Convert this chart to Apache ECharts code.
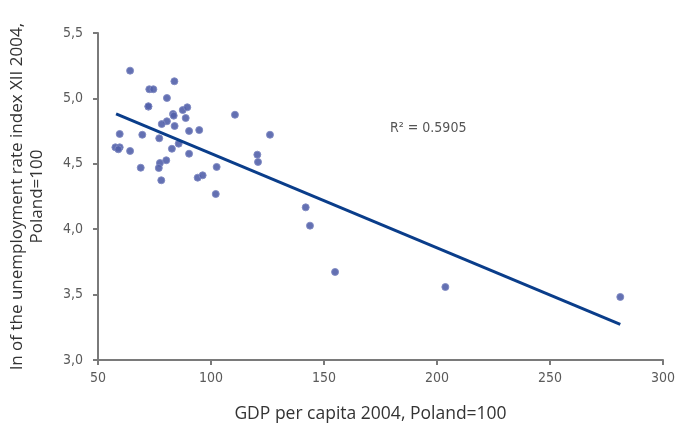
<!DOCTYPE html>
<html>
<head>
<meta charset="utf-8">
<script src="https://cdn.jsdelivr.net/npm/echarts@6/dist/echarts.min.js"></script>
<style>html,body{margin:0;padding:0;background:#fff}#c{width:684px;height:426px}</style>
</head>
<body>
<div id="c"></div>
<script>
var gdp = [64.2,83.8,72.7,74.5,80.5,72.3,72.3,83.2,83.5,87.5,89.5,110.6,88.8,80.5,78.2,83.9,59.6,69.6,90.3,94.8,126.1,77.1,57.7,59.6,59.0,64.2,82.7,85.7,90.3,120.5,120.8,77.4,80.2,76.9,68.9,102.5,78.0,94.1,96.3,102.1,141.9,143.8,154.9,203.7,281.1];
var lnUnemp = [5.212,5.131,5.070,5.070,5.003,4.937,4.940,4.881,4.868,4.911,4.932,4.875,4.850,4.825,4.804,4.789,4.728,4.722,4.751,4.758,4.722,4.695,4.626,4.626,4.611,4.598,4.615,4.654,4.577,4.570,4.514,4.506,4.527,4.468,4.470,4.476,4.374,4.394,4.412,4.269,4.167,4.027,3.673,3.558,3.482];
var trendX = [58.0, 281.1];
var trendY = [4.881, 3.273];
var r2Text = 'R² = 0.5905';
var xTicks = [50,100,150,200,250,300];
var yTicks = ['3,0','3,5','4,0','4,5','5,0','5,5'];

var fnt = "'Liberation Sans Narrow','DejaVu Sans Condensed','Open Sans',sans-serif";
var chart = echarts.init(document.getElementById('c'));
chart.setOption({
  animation: false,
  backgroundColor: '#fff',
  grid: {left: 98, right: 21, top: 33, bottom: 66, containLabel: false, outerBoundsMode: 'none'},
  xAxis: {
    type: 'value', min: 50, max: 300, interval: 50,
    axisLine: {lineStyle: {color: '#7a7a7a', width: 2}},
    axisTick: {show: true, length: 5, lineStyle: {color: '#7a7a7a', width: 2}},
    splitLine: {show: false},
    axisLabel: {color: '#5a5a5a', fontFamily: fnt, fontSize: 14, margin: 11},
    name: 'GDP per capita 2004, Poland=100',
    nameLocation: 'middle', nameGap: 45,
    nameTextStyle: {color: '#333', fontFamily: "'Open Sans',sans-serif", fontSize: 17.5, padding: [0, 20, 0, 0]}
  },
  yAxis: {
    type: 'value', min: 3, max: 5.5, interval: 0.5,
    axisLine: {show: true, lineStyle: {color: '#7a7a7a', width: 2}},
    axisTick: {show: true, length: 5, lineStyle: {color: '#7a7a7a', width: 2}},
    splitLine: {show: false},
    axisLabel: {color: '#5a5a5a', fontFamily: fnt, fontSize: 14, margin: 15,
      formatter: function(v){ return yTicks[Math.round((v-3)/0.5)]; }},
    name: 'ln of the unemployment rate index XII 2004,\nPoland=100',
    nameLocation: 'middle', nameGap: 51, nameRotate: 90,
    nameTextStyle: {color: '#333', fontFamily: "'Open Sans',sans-serif", fontSize: 17, lineHeight: 20}
  },
  graphic: [{
    type: 'text', left: 390, top: 121,
    style: {text: r2Text, fill: '#555', font: "14px " + fnt}
  }],
  series: [{
    type: 'scatter',
    data: gdp.map(function(x,i){return [x, lnUnemp[i]];}),
    symbolSize: 7,
    itemStyle: {color: '#5260aa', opacity: 0.9, borderColor: '#8089c2', borderWidth: 1},
    z: 3
  },{
    type: 'line',
    data: trendX.map(function(x,i){return [x, trendY[i]];}),
    symbol: 'none',
    lineStyle: {color: '#0a3d8a', width: 3},
    z: 4
  }]
});
</script>
</body>
</html>
